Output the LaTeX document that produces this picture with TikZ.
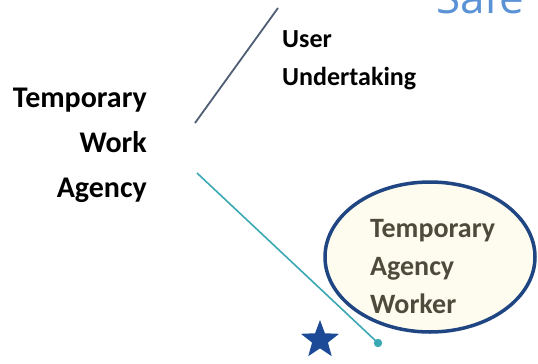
\documentclass[tikz,border=0pt]{standalone}
\usepackage{fontspec}
\setmainfont{Carlito}
\newfontfamily\safefont{Open Sans}
\usetikzlibrary{shapes.geometric,shapes.misc}
\definecolor{slateline}{HTML}{4F5E74}
\definecolor{tealline}{HTML}{3AA9B3}
\definecolor{ovalblue}{HTML}{1F4682}
\definecolor{ovalfill}{HTML}{FDFCEE}
\definecolor{ovaltext}{HTML}{4F4B3C}
\definecolor{starblue}{HTML}{1C4A96}
\definecolor{safeblue}{HTML}{5B92D6}
\tikzset{
  lbl/.style={font=\fontsize{30}{45}\selectfont\bfseries, inner sep=0pt, text=black},
  ovaltxt/.style={font=\fontsize{28}{38}\selectfont\bfseries, inner sep=0pt, text=ovaltext, align=left},
  oval/.style={ellipse, draw=ovalblue, line width=3.5pt, fill=ovalfill, minimum width=210pt, minimum height=150pt, inner sep=0pt},
}
\begin{document}
\begin{tikzpicture}[x=1pt,y=-1pt]
\clip (0,0) rectangle (538,364);
\fill[white] (0,0) rectangle (538,364);
% Safe (cut off at top)
\node[anchor=base west, inner sep=0pt, font=\safefont\fontsize{44}{44}\selectfont, text=safeblue] (safe) at (436,13) {Safe};
% lines
\coordinate (u1) at (195,123);
\coordinate (u2) at (278,8);
\draw[slateline, line width=1.8pt] (u1) -- (u2);
\coordinate (t1) at (197,173);
\coordinate (t2) at (378,343);
% oval
\node[oval] (worker) at (430,257) {};
\node[ovaltxt, anchor=base west] (wtxt) at (370,313) {Temporary\\Agency\\Worker};
\draw[tealline, line width=1.6pt] (t1) -- (t2);
\fill[tealline] (t2) circle (4.2pt);
% star
\node[star, star points=5, star point ratio=2.4, fill=starblue, minimum size=40pt, inner sep=0pt] (star) at (320,340) {};
% labels
\node[lbl, anchor=base east, align=right] (twa) at (147,197) {Temporary\\Work\\Agency};
\node[lbl, anchor=base west, align=left, font=\fontsize{26}{38}\selectfont\bfseries] (uu) at (282,85) {User\\Undertaking};
\end{tikzpicture}
\end{document}
